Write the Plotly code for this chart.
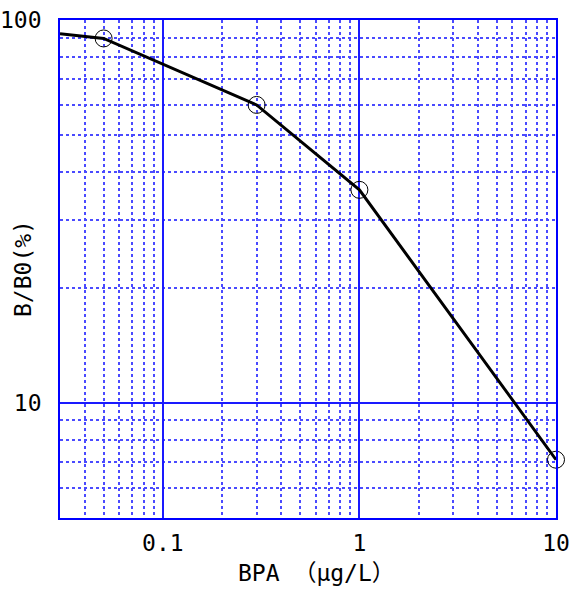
import plotly.graph_objects as go
import math

# Data
curve_x = [0.03, 0.05, 0.3, 1, 10]
curve_y = [92, 89.5, 60, 36, 7.1]
point_x = [0.05, 0.3, 1, 10]
point_y = [89.5, 60, 36, 7.1]

x_ticks = [0.1, 1, 10]
x_ticktext = ["0.1", "1", "10"]
y_ticks = [10, 100]
y_ticktext = ["10", "100"]

x_minor = [m * 10 ** e for e in (-2, -1, 0) for m in range(2, 10) if 0.03 <= m * 10 ** e <= 10]
y_minor = [m * 10 ** e for e in (0, 1) for m in range(2, 10) if 5 <= m * 10 ** e <= 100]

BLUE = "#0000ff"
MINOR = "#4a4aff"
FONT = "DejaVu Sans Mono, Noto Sans CJK JP"

fig = go.Figure()
fig.add_trace(go.Scatter(x=curve_x, y=curve_y, mode="lines",
                         line=dict(color="black", width=3), hoverinfo="skip"))
fig.add_trace(go.Scatter(x=point_x, y=point_y, mode="markers", cliponaxis=False,
                         marker=dict(symbol="circle-open", size=17, color="black",
                                     line=dict(width=1, color="black"))))

axis_common = dict(
    showline=True, mirror=True, linecolor=BLUE, linewidth=1.8,
    showgrid=True, gridcolor="#1a1aff", gridwidth=1.6,
    ticks="", zeroline=False, automargin=False,
    tickfont=dict(family=FONT, size=23, color="black"),
)

fig.update_xaxes(type="log", range=[math.log10(0.03), 1],
                 tickmode="array", tickvals=x_ticks, ticktext=x_ticktext,
                 minor=dict(tickmode="array", tickvals=x_minor, showgrid=True,
                            gridcolor=MINOR, griddash="3px,3px", gridwidth=1.8, ticks=""),
                 ticklabelstandoff=3,
                 **axis_common)
fig.update_yaxes(type="log", range=[math.log10(5), 2],
                 tickmode="array", tickvals=y_ticks, ticktext=y_ticktext,
                 minor=dict(tickmode="array", tickvals=y_minor, showgrid=True,
                            gridcolor=MINOR, griddash="3px,3px", gridwidth=1.8, ticks=""),
                 ticklabelstandoff=12,
                 **axis_common)

fig.add_annotation(text="BPA （μg/L）", xref="paper", yref="paper", x=0.5, y=0,
                   xshift=8, yshift=-55, showarrow=False, yanchor="middle",
                   font=dict(family=FONT, size=23, color="black"))
fig.add_annotation(text="B/B0(%)", xref="paper", yref="paper", x=0, y=0.5,
                   xshift=-37, textangle=-90, showarrow=False, xanchor="center",
                   font=dict(family=FONT, size=23, color="black"))

fig.update_layout(
    width=572, height=594,
    margin=dict(l=60, r=16, t=20, b=76),
    paper_bgcolor="white", plot_bgcolor="white",
    showlegend=False,
)

fig.write_html("out.html", config={"displayModeBar": False},
               post_script="document.body.style.margin='0';document.body.style.overflow='hidden';")
